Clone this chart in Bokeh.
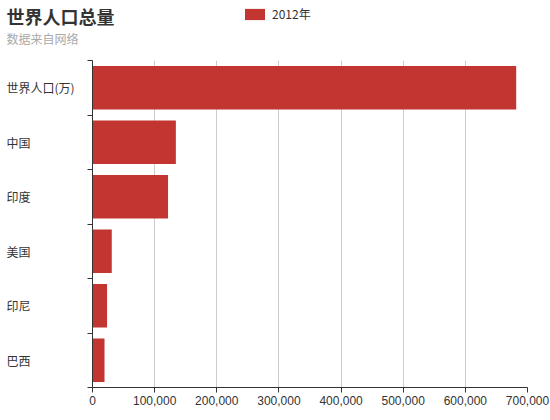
import numpy as np

from bokeh.plotting import figure
from bokeh.layouts import column, row
from bokeh.core.properties import value
from bokeh.models import (ColumnDataSource, Range1d, FixedTicker, NumeralTickFormatter,
                          Label, Legend, LegendItem)
from bokeh.embed import file_html
from bokeh.resources import INLINE

# data (bottom -> top, as in the chart)
categories = ["巴西", "印尼", "美国", "印度", "中国", "世界人口(万)"]
pop_2012 = [19325, 23438, 31000, 121594, 134141, 681807]
series_name = "2012年"
x_ticks = [0, 100000, 200000, 300000, 400000, 500000, 600000, 700000]
title_text = "世界人口总量"
subtitle_text = "数据来自网络"

FONT = "Noto Sans CJK SC"
NUM_FONT = "Liberation Sans"
RED = "#c23531"
TXT = "#333333"

n = len(categories)
centers = np.arange(n) + 0.5
src = ColumnDataSource(data={"y": centers, "value": pop_2012, "name": categories})
y_range = Range1d(0, n)

W, H = 550, 420
HEAD_H = 60
LABEL_W = 82
BODY_H = H - HEAD_H
BOTTOM = 33


def bare(fig):
    fig.outline_line_color = None
    fig.background_fill_color = None
    fig.border_fill_color = None
    return fig


# ---- header: title, subtitle, legend
head = bare(figure(width=W, height=HEAD_H, output_backend="svg", toolbar_location=None,
                   x_axis_type=None, y_axis_type=None, x_range=Range1d(-2, -1),
                   y_range=Range1d(0, n), min_border=0))
head.add_layout(Label(x=6, y=45, x_units="screen", y_units="screen", text=title_text,
                      text_font=FONT, text_font_size="18px", text_font_style="bold",
                      text_color=TXT, text_baseline="middle"))
head.add_layout(Label(x=6, y=22, x_units="screen", y_units="screen", text=subtitle_text,
                      text_font=FONT, text_font_size="12px", text_color="#aaaaaa",
                      text_baseline="middle"))
# same bars, out of the header's view: only used for the legend swatch
swatch = head.hbar(y="y", right="value", left=0, height=0.8, source=src,
                   fill_color=RED, line_color=None)
legend = Legend(items=[LegendItem(label=series_name, renderers=[swatch])],
                location=(242, 38), orientation="horizontal",
                glyph_width=25, glyph_height=14, label_height=14, label_standoff=5,
                padding=0, margin=0, border_line_color=None, background_fill_alpha=0,
                label_text_font=FONT, label_text_font_size="12px", label_text_color=TXT)
head.add_layout(legend)

# ---- category labels (left aligned column)
lab = bare(figure(width=LABEL_W, height=BODY_H, output_backend="svg", toolbar_location=None,
                  x_axis_type=None, y_axis_type=None, x_range=Range1d(0, 1), y_range=y_range,
                  min_border=0, min_border_bottom=BOTTOM))
lab.text(x=0, y="y", text="name", source=src, text_font=value(FONT), text_font_size="12px",
         text_color=TXT, text_align="left", text_baseline="middle", x_offset=6)

# ---- bars
p = bare(figure(width=W - LABEL_W, height=BODY_H, output_backend="svg", toolbar_location=None,
                x_range=Range1d(0, 700000), y_range=y_range,
                min_border_left=10, min_border_right=23, min_border_top=0,
                min_border_bottom=BOTTOM))

p.hbar(y="y", right="value", left=0, height=0.8, source=src, fill_color=RED, line_color=None)

p.xaxis.ticker = FixedTicker(ticks=x_ticks)
p.xaxis.formatter = NumeralTickFormatter(format="0,0")
p.xaxis.axis_line_color = TXT
p.xaxis.major_tick_line_color = TXT
p.xaxis.major_tick_out = 5
p.xaxis.major_tick_in = 0
p.xaxis.minor_tick_line_color = None
p.xaxis.major_label_text_font = NUM_FONT
p.xaxis.major_label_text_font_size = "12px"
p.xaxis.major_label_text_color = TXT
p.xaxis.major_label_standoff = 3
p.xgrid.ticker = FixedTicker(ticks=x_ticks)
p.xgrid.grid_line_color = "#cccccc"

# y axis only carries the boundary ticks
p.yaxis.ticker = FixedTicker(ticks=list(range(n + 1)))
p.yaxis.major_label_overrides = {i: "" for i in range(n + 1)}
p.yaxis.major_label_standoff = 0
p.yaxis.axis_line_color = TXT
p.yaxis.major_tick_line_color = TXT
p.yaxis.major_tick_out = 5
p.yaxis.major_tick_in = 0
p.yaxis.minor_tick_line_color = None
p.ygrid.grid_line_color = None

layout = column(head, row(lab, p))
open("out.html", "w").write(file_html(layout, INLINE))
